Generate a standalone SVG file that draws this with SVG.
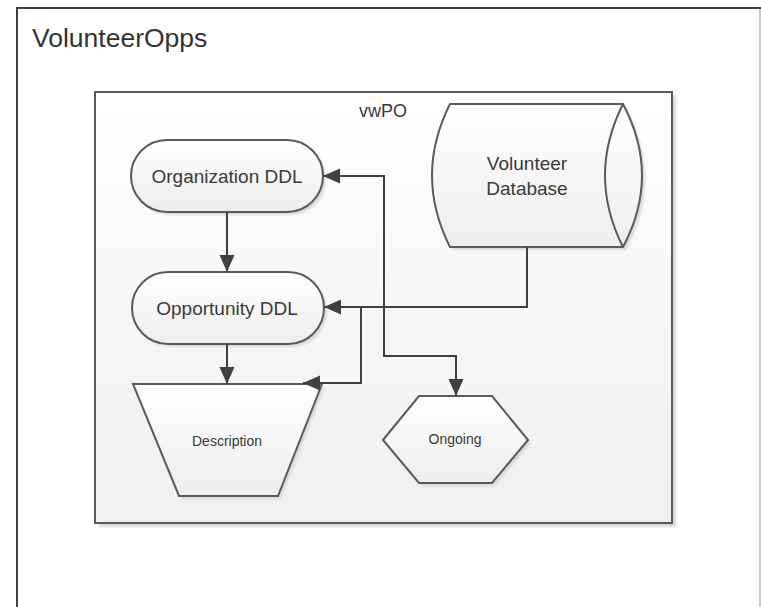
<svg xmlns="http://www.w3.org/2000/svg" width="761" height="607" viewBox="0 0 761 607">
<style>
.shape{stroke:#5a5a5a;stroke-width:2;fill:url(#shapeGrad);}
.shadow{fill:#d9d9d9;stroke:none;}
.conn{fill:none;stroke:#404040;stroke-width:2;}
.lbl{font-family:"Liberation Sans",Arial,sans-serif;fill:#3a3a3a;text-anchor:middle;}
</style>
<defs>
<linearGradient id="shapeGrad" x1="0" y1="0" x2="0" y2="1">
<stop offset="0" stop-color="#ffffff"/>
<stop offset="1" stop-color="#ededed"/>
</linearGradient>
<linearGradient id="boxGrad" x1="0" y1="0" x2="0" y2="1">
<stop offset="0" stop-color="#ffffff"/>
<stop offset="1" stop-color="#efefef"/>
</linearGradient>
<filter id="blur" x="-10%" y="-10%" width="120%" height="120%">
<feGaussianBlur stdDeviation="1.2"/>
</filter>
<marker id="arrow" markerUnits="userSpaceOnUse" markerWidth="18" markerHeight="18" viewBox="0 0 18 18" refX="17" refY="9" orient="auto">
<path d="M0,1.5 L17,9 L0,16.5 z" fill="#404040"/>
</marker>
</defs>

<g id="frame">
<rect x="0" y="0" width="761" height="607" fill="#ffffff"/>
<line x1="16" y1="8" x2="761" y2="8" stroke="#404040" stroke-width="2"/>
<line x1="17" y1="7" x2="17" y2="607" stroke="#404040" stroke-width="2"/>
<line x1="760" y1="9" x2="760" y2="607" stroke="#b8b8b8" stroke-width="1.5"/>
<text x="32" y="47" font-family="Liberation Sans, Arial, sans-serif" font-size="26.5" fill="#333333">VolunteerOpps</text>
</g>

<g id="vwPO">
<rect x="99" y="96" width="577" height="431" class="shadow" filter="url(#blur)"/>
<rect x="95" y="92" width="577" height="431" fill="url(#boxGrad)" stroke="#5a5a5a" stroke-width="2"/>
<text x="383" y="117" class="lbl" font-size="18">vwPO</text>
</g>

<g id="organization-ddl">
<rect x="134" y="143" width="192" height="72" rx="36" class="shadow" filter="url(#blur)"/>
<rect x="131" y="140" width="192" height="72" rx="36" class="shape"/>
<text x="227" y="183" class="lbl" font-size="19">Organization DDL</text>
</g>

<g id="opportunity-ddl">
<rect x="135" y="275" width="192" height="72" rx="36" class="shadow" filter="url(#blur)"/>
<rect x="132" y="272" width="192" height="72" rx="36" class="shape"/>
<text x="227" y="315" class="lbl" font-size="19">Opportunity DDL</text>
</g>

<g id="volunteer-database">
<path d="M453,107 L626,107 Q664,178.5 626,250 L453,250 Q417,178.5 453,107 Z" class="shadow" filter="url(#blur)"/>
<path d="M450,104 L623,104 Q661,175.5 623,247 L450,247 Q414,175.5 450,104 Z" class="shape"/>
<path d="M623,104 Q587,175.5 623,247" fill="none" stroke="#5a5a5a" stroke-width="2"/>
<text x="527" y="170" class="lbl" font-size="19">Volunteer</text>
<text x="527" y="195" class="lbl" font-size="19">Database</text>
</g>

<g id="description">
<polygon points="136,387 325,387 281,499 182,499" class="shadow" filter="url(#blur)"/>
<polygon points="133,384 322,384 278,496 179,496" class="shape"/>
<text x="227" y="446" class="lbl" font-size="14">Description</text>
</g>

<g id="ongoing">
<polygon points="386,443 422,399 495,399 531,443 495,486 422,486" class="shadow" filter="url(#blur)"/>
<polygon points="383,440 419,396 492,396 528,440 492,483 419,483" class="shape"/>
<text x="455" y="444" class="lbl" font-size="14">Ongoing</text>
</g>

<g id="connectors">
<path d="M227,212 L227,272" class="conn" marker-end="url(#arrow)"/>
<path d="M227,344 L227,384" class="conn" marker-end="url(#arrow)"/>
<path d="M527,247 L527,307 L324,307" class="conn" marker-end="url(#arrow)"/>
<path d="M361,307 L361,383 L303,383" class="conn" marker-end="url(#arrow)"/>
<path d="M384,356 L384,176 L323,176" class="conn" marker-end="url(#arrow)"/>
<path d="M384,355 L384,356 L456,356 L456,396" class="conn" marker-end="url(#arrow)"/>
</g>
</svg>
